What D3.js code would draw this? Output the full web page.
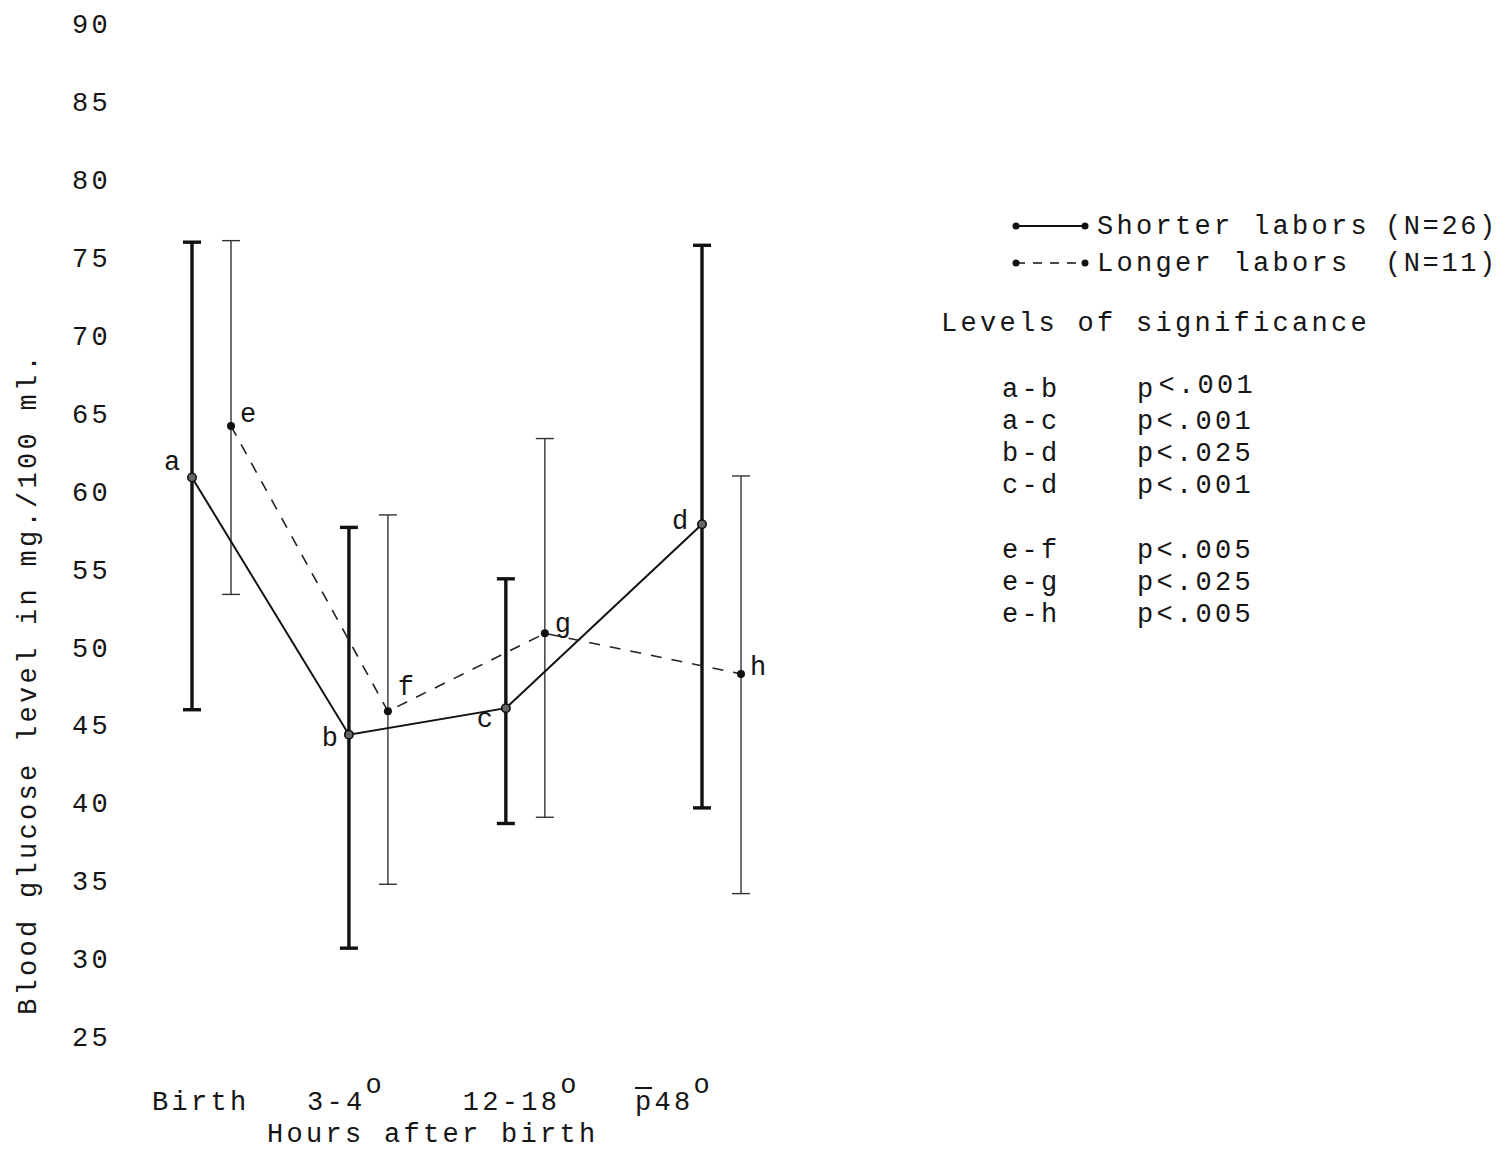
<!DOCTYPE html>
<html><head><meta charset="utf-8">
<script src="https://cdn.jsdelivr.net/npm/d3@7"></script>
<style>
body{margin:0;background:#fff}
svg text{font-family:"Liberation Mono","Courier New",monospace;font-size:27px;letter-spacing:3.3px;fill:#151515}
</style>
</head><body><svg id="c" width="1507" height="1149"></svg>
<script>
// ---- data ----
const categories = ["Birth", "3-4", "12-18", "p48"];
const catDegree = [false, true, true, true];
const yTicks = [90, 85, 80, 75, 70, 65, 60, 55, 50, 45, 40, 35, 30, 25];

const shorterMean = [60.9, 44.4, 46.1, 57.9];
const shorterLow  = [46.0, 30.7, 38.7, 39.7];
const shorterHigh = [76.0, 57.7, 54.4, 75.8];
const shorterLetters = ["a", "b", "c", "d"];

const longerMean = [64.2, 45.9, 50.9, 48.3];
const longerLow  = [53.4, 34.8, 39.1, 34.2];
const longerHigh = [76.1, 58.5, 63.4, 61.0];
const longerLetters = ["e", "f", "g", "h"];

const legendNames = ["Shorter labors", "Longer labors"];
const legendN = ["(N=26)", "(N=11)"];
const sigTitle = "Levels of significance";
const sigPairs = ["a-b", "a-c", "b-d", "c-d", "e-f", "e-g", "e-h"];
const sigP = ["<.001", "<.001", "<.025", "<.001", "<.005", "<.025", "<.005"];

// ---- layout ----
const catSlot = [0, 1, 2, 3.25];
const longerShift = 39;
const shortLabelOff = [[-20, -8], [-19, 11], [-21, 19], [-22, 5]];
const longLabelOff = [[17, -4], [18, -16], [18, -1], [17, 1]];
const catLabelShift = [-40, -42, -43, -67];

const svg = d3.select("#c");
const y = d3.scaleLinear().domain([25, 90]).range([1037, 24]);
const x = d3.scaleLinear().domain([0, 3.25]).range([192, 702]);
const xs = i => x(catSlot[i]);
const xl = i => x(catSlot[i]) + longerShift;

// y axis
const gy = svg.append("g").call(d3.axisLeft(y).tickValues(yTicks).tickSize(0).tickFormat(d3.format("d")));
gy.select(".domain").remove();
gy.selectAll("text").attr("x", 72).attr("text-anchor", "start");

// y title
svg.append("text").attr("transform", "translate(36,1015) rotate(-90)")
  .text("Blood glucose level in mg./100 ml.");

// x category labels
categories.forEach((c, i) => {
  const x0 = xs(i) + catLabelShift[i];
  const t = svg.append("text").attr("x", x0).attr("y", 1110);
  t.append("tspan").text(c);
  if (catDegree[i]) t.append("tspan").attr("dy", -17).text("o");
  if (c === "p48") {
    svg.append("line").attr("x1", x0).attr("x2", x0 + 17).attr("y1", 1088).attr("y2", 1088)
      .attr("stroke", "#151515").attr("stroke-width", 2);
  }
});
svg.append("text").attr("x", 267).attr("y", 1142).text("Hours after birth");

// error bars
function errBars(cls, xf, lo, hi, w, color) {
  const g = svg.append("g").attr("class", cls).attr("stroke", color).attr("stroke-width", w);
  lo.forEach((v, i) => {
    g.append("line").attr("x1", xf(i)).attr("x2", xf(i)).attr("y1", y(hi[i])).attr("y2", y(v));
    g.append("line").attr("x1", xf(i) - 9).attr("x2", xf(i) + 9).attr("y1", y(hi[i])).attr("y2", y(hi[i]));
    g.append("line").attr("x1", xf(i) - 9).attr("x2", xf(i) + 9).attr("y1", y(v)).attr("y2", y(v));
  });
}
errBars("eb-s", xs, shorterLow, shorterHigh, 3.4, "#111");
errBars("eb-l", xl, longerLow, longerHigh, 1.4, "#333");

// lines
const lineS = d3.line().x((d, i) => xs(i)).y(d => y(d));
const lineL = d3.line().x((d, i) => xl(i)).y(d => y(d));
svg.append("path").attr("d", lineS(shorterMean)).attr("fill", "none").attr("stroke", "#111").attr("stroke-width", 2);
svg.append("path").attr("d", lineL(longerMean)).attr("fill", "none").attr("stroke", "#222")
  .attr("stroke-width", 1.6).attr("stroke-dasharray", "11,10");

// points
shorterMean.forEach((v, i) => {
  svg.append("circle").attr("cx", xs(i)).attr("cy", y(v)).attr("r", 4.2)
    .attr("fill", "#666").attr("stroke", "#111").attr("stroke-width", 1.6);
  svg.append("text").attr("x", xs(i) + shortLabelOff[i][0]).attr("y", y(v) + shortLabelOff[i][1])
    .attr("text-anchor", "middle").style("letter-spacing", "0px").text(shorterLetters[i]);
});
longerMean.forEach((v, i) => {
  svg.append("circle").attr("cx", xl(i)).attr("cy", y(v)).attr("r", 4).attr("fill", "#111");
  svg.append("text").attr("x", xl(i) + longLabelOff[i][0]).attr("y", y(v) + longLabelOff[i][1])
    .attr("text-anchor", "middle").style("letter-spacing", "0px").text(longerLetters[i]);
});

// legend
const legY = [226, 263];
legendNames.forEach((n, i) => {
  const ly = legY[i];
  svg.append("line").attr("x1", 1016).attr("x2", 1085).attr("y1", ly).attr("y2", ly)
    .attr("stroke", "#111").attr("stroke-width", i === 0 ? 2 : 1.6)
    .attr("stroke-dasharray", i === 0 ? null : "9,8");
  [1016, 1085].forEach(cx => svg.append("circle").attr("cx", cx).attr("cy", ly).attr("r", 3.5).attr("fill", "#111"));
  svg.append("text").attr("x", 1097).attr("y", ly + 8).text(n);
  svg.append("text").attr("x", 1385).attr("y", ly + 8).style("letter-spacing", "2.6px").text(legendN[i]);
});

svg.append("text").attr("x", 941).attr("y", 331).text(sigTitle);
const rowY = [397, 429, 461, 493, 558, 590, 622];
sigPairs.forEach((p, i) => {
  svg.append("text").attr("x", 1002).attr("y", rowY[i]).text(p);
  const t = svg.append("text").attr("x", 1137).attr("y", rowY[i]);
  if (i === 0) {
    t.append("tspan").text("p");
    t.append("tspan").attr("dx", 2).attr("dy", -4).text(sigP[i]);
  } else {
    t.text("p" + sigP[i]);
  }
});
</script>
</body></html>
